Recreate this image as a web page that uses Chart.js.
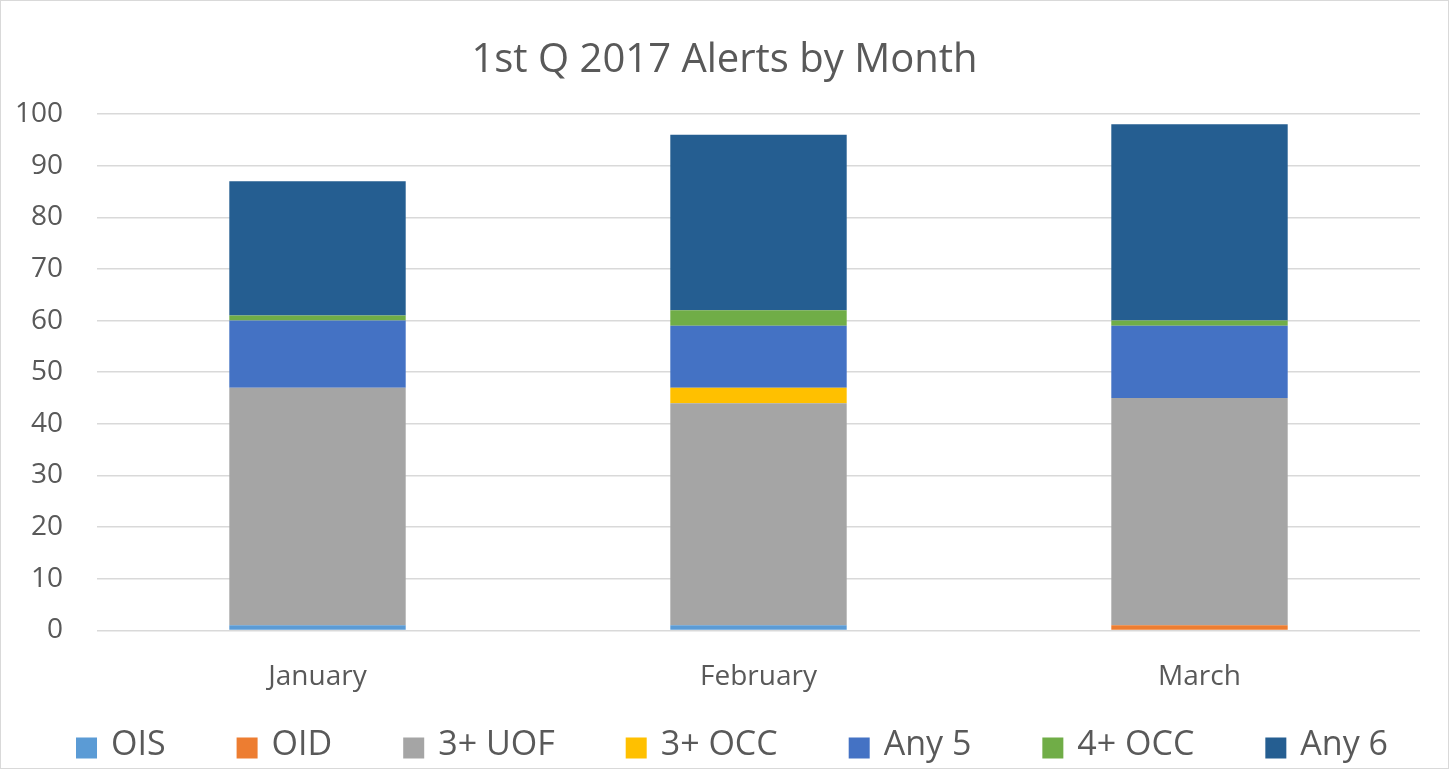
<!DOCTYPE html>
<html>
<head>
<meta charset="utf-8">
<script src="https://cdn.jsdelivr.net/npm/chart.js@4/dist/chart.umd.min.js"></script>
<style>
  html, body { margin: 0; padding: 0; background: #fff; }
  #wrap { position: absolute; left: 0; top: 0; width: 1447px; height: 767px; border: 1px solid #d9d9d9; }
</style>
</head>
<body>
<div id="wrap"><canvas id="myChart"></canvas></div>
<script>
const months = ["January", "February", "March"];
const ois = [1, 1, 0];
const oid = [0, 0, 1];
const uof3 = [46, 43, 44];
const occ3 = [0, 3, 0];
const any5 = [13, 12, 14];
const occ4 = [1, 3, 1];
const any6 = [26, 34, 38];

const grey = '#595959';
const font = "'Open Sans', sans-serif";

// the built-in legend uses one padding for both directions, which pushes the
// plot up when the items need wide gaps, so the legend row is drawn here
const wideLegend = {
  id: 'wideLegend',
  afterDraw(chart, args, opts) {
    const ctx = chart.ctx;
    const items = chart.data.datasets;
    ctx.save();
    ctx.font = opts.size + 'px ' + font;
    ctx.textBaseline = 'middle';
    let total = 0;
    items.forEach((ds, i) => {
      total += opts.box + opts.boxGap + ctx.measureText(ds.label).width;
      if (i > 0) total += opts.gap;
    });
    let x = opts.center - total / 2;
    items.forEach((ds) => {
      ctx.fillStyle = ds.backgroundColor;
      ctx.fillRect(x, opts.y + 3 - opts.box / 2, opts.box, opts.box);
      x += opts.box + opts.boxGap;
      ctx.fillStyle = grey;
      ctx.fillText(ds.label, x, opts.y);
      x += ctx.measureText(ds.label).width + opts.gap;
    });
    ctx.restore();
  }
};

new Chart("myChart", {
  type: "bar",
  data: {
    labels: months,
    datasets: [
      { label: "OIS", data: ois, backgroundColor: '#5b9bd5' },
      { label: "OID", data: oid, backgroundColor: '#ed7d31' },
      { label: "3+ UOF", data: uof3, backgroundColor: '#a5a5a5' },
      { label: "3+ OCC", data: occ3, backgroundColor: '#ffc000' },
      { label: "Any 5", data: any5, backgroundColor: '#4472c4' },
      { label: "4+ OCC", data: occ4, backgroundColor: '#70ad47' },
      { label: "Any 6", data: any6, backgroundColor: '#255e91' }
    ]
  },
  plugins: [wideLegend],
  options: {
    responsive: true,
    maintainAspectRatio: false,
    animation: false,
    layout: { padding: { left: 0, right: 0, top: 36, bottom: 52 } },
    datasets: { bar: { barPercentage: 0.8, categoryPercentage: 0.5 } },
    scales: {
      x: {
        stacked: true,
        grid: { display: false },
        border: { display: false },
        ticks: { color: grey, font: { family: font, size: 28 }, padding: 22 }
      },
      y: {
        stacked: true,
        min: 0,
        max: 100,
        ticks: { stepSize: 10, color: grey, font: { family: font, size: 28 }, padding: 34 },
        grid: { color: '#d9d9d9', lineWidth: 1.5, drawTicks: false },
        border: { display: false },
        afterFit: (axis) => { axis.width = 96; }
      },
      // empty axis that only keeps the right margin, so the title stays centred
      yRight: {
        position: 'right',
        grid: { display: false },
        border: { display: false },
        ticks: { display: false },
        afterFit: (axis) => { axis.width = 28; }
      }
    },
    plugins: {
      title: {
        display: true,
        text: "1st Q 2017 Alerts by Month",
        color: grey,
        font: { family: font, size: 40, weight: 'normal' },
        padding: { top: 0, bottom: 29 }
      },
      legend: { display: false },
      wideLegend: { size: 34, box: 21, boxGap: 14, gap: 71, center: 731, y: 744 },
      tooltip: { enabled: false }
    }
  }
});
</script>
</body>
</html>
